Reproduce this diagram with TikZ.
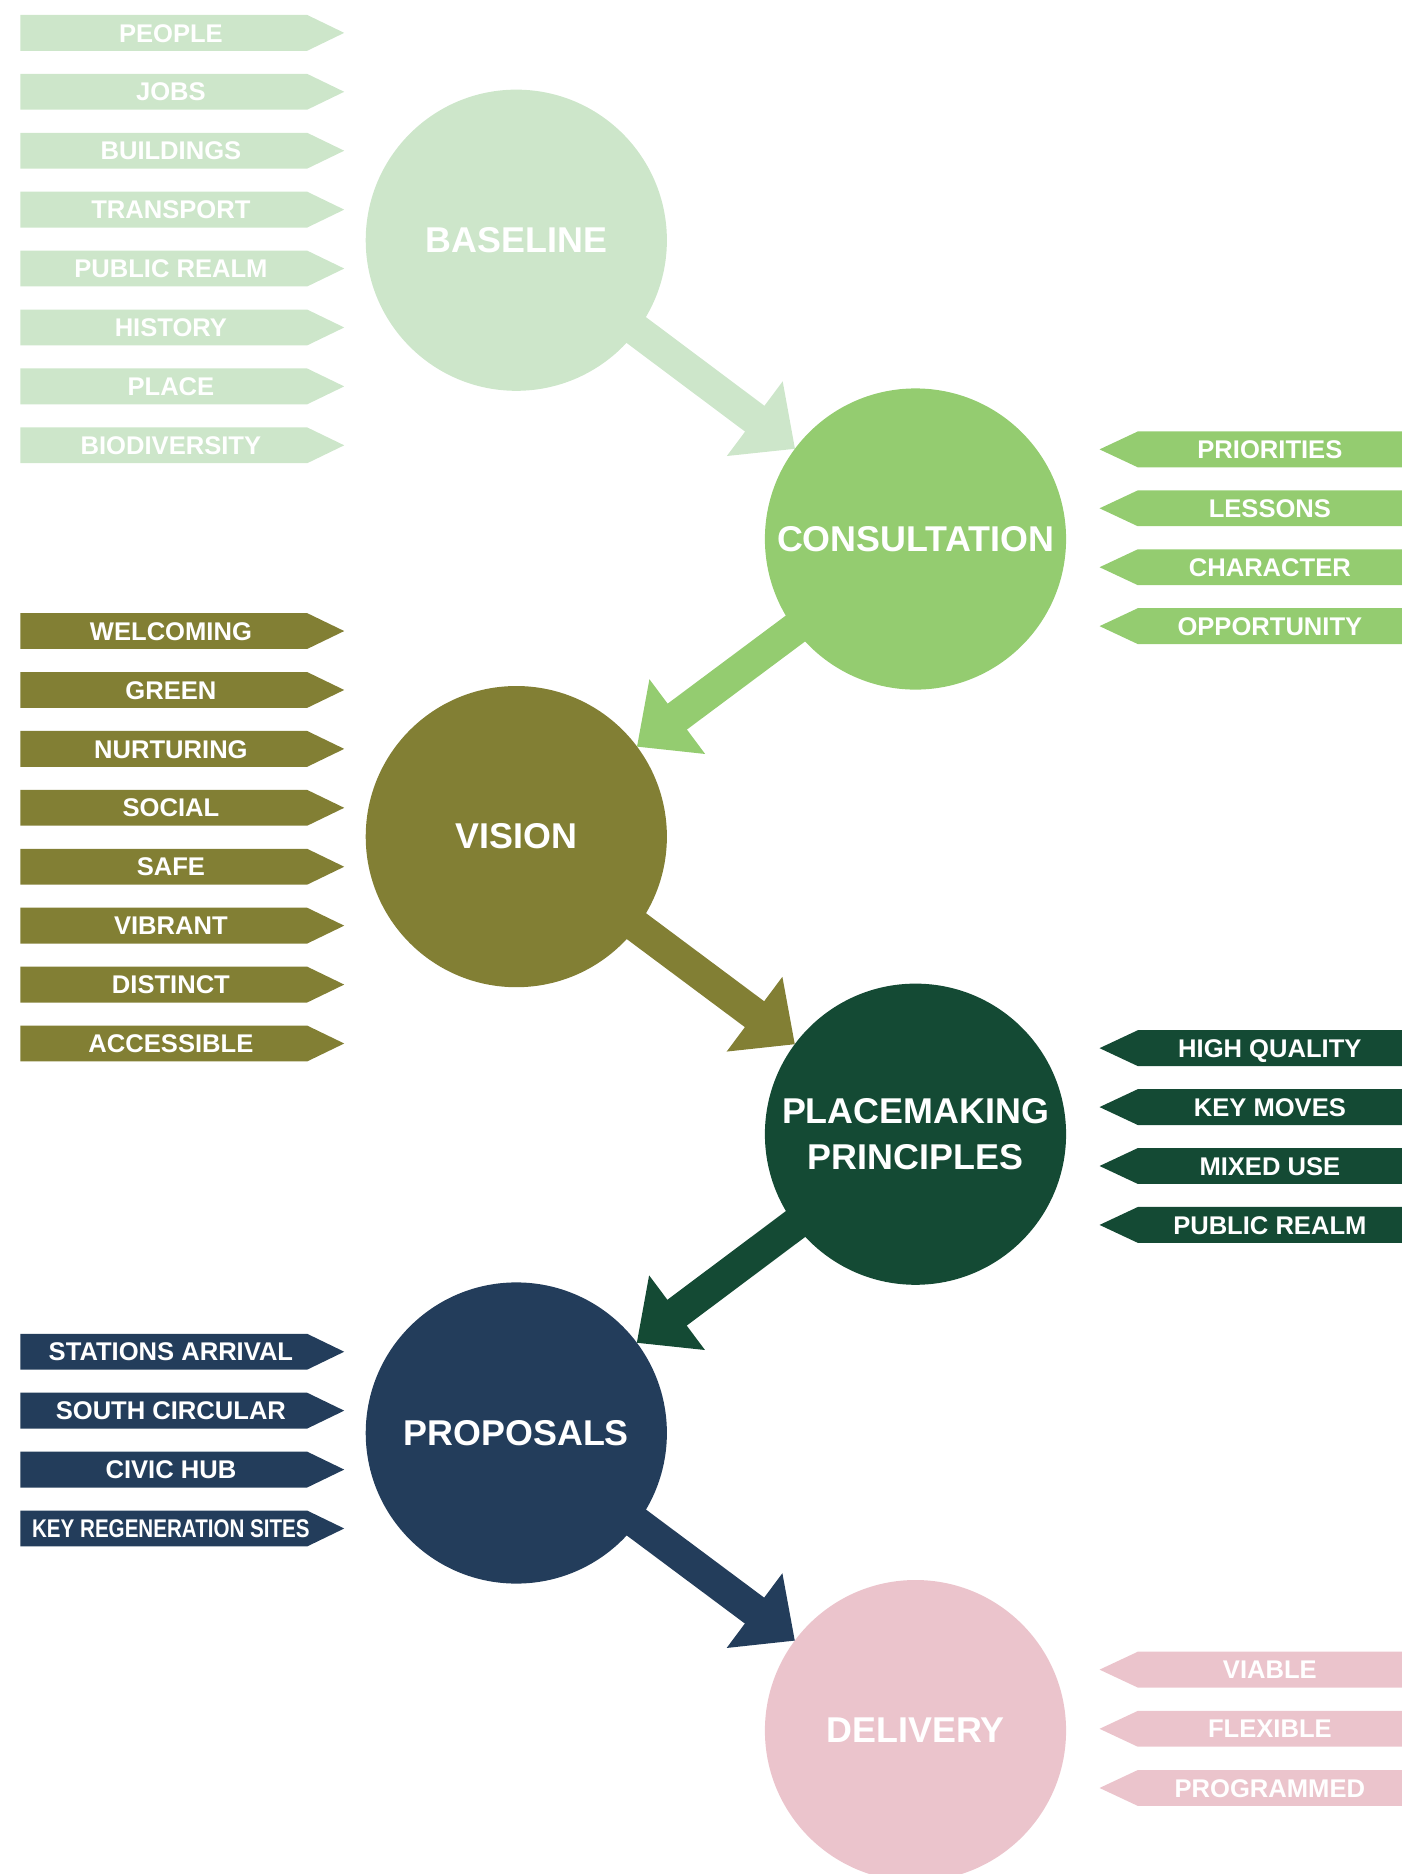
\documentclass[tikz,border=0pt]{standalone}
\usepackage{fontspec}
\setmainfont{Liberation Sans}
\usetikzlibrary{calc}
\definecolor{cBase}{HTML}{CDE6CA}
\definecolor{cCons}{HTML}{94CC70}
\definecolor{cVis}{HTML}{827F34}
\definecolor{cPlace}{HTML}{144A34}
\definecolor{cProp}{HTML}{233D5B}
\definecolor{cDel}{HTML}{EBC4CC}
\newcommand\ltag[4]{%
  \fill[#3] (17,#2-15) -- (257,#2-15) -- (288,#2) -- (257,#2+15) -- (17,#2+15) -- cycle;
  \node[tagtxt] (#1) at (143,#2) {#4};}
\newcommand\rtag[4]{%
  \fill[#3] (1180,#2-15) -- (952,#2-15) -- (920,#2) -- (952,#2+15) -- (1180,#2+15) -- cycle;
  \node[tagtxt] (#1) at (1062.5,#2) {#4};}
\newcommand\flowarrow[3]{%
  \draw[line width=27pt, draw=#3] ($(#1.center)!120pt!(#2.center)$) -- ($(#2.center)!167pt!(#1.center)$);
  \fill[#3] ($(#2.center)!168pt!(#1.center)!39pt!90:(#1.center)$) -- ($(#2.center)!126pt!(#1.center)$) -- ($(#2.center)!168pt!(#1.center)!39pt!-90:(#1.center)$) -- cycle;}
\begin{document}
\begin{tikzpicture}[x=1pt,y=-1pt,
  circ/.style={circle, minimum size=252pt, inner sep=0pt, fill=#1, text=white,
    font=\bfseries\fontsize{30}{38}\selectfont, align=center},
  tagtxt/.style={text=white, font=\bfseries\fontsize{21.4}{24}\selectfont,
    inner sep=0pt, text height=15.3pt, text depth=0pt}]
\useasboundingbox (0,0) rectangle (1173,1568);
% circles
\node[circ=cBase] (base) at (432,201) {BASELINE};
\node[circ=cCons] (cons) at (766,451) {CONSULTATION};
\node[circ=cVis] (vis) at (432,700) {VISION};
\node[circ=cPlace] (place) at (766,949) {PLACEMAKING\\PRINCIPLES};
\node[circ=cProp] (prop) at (432,1199) {PROPOSALS};
\node[circ=cDel] (del) at (766,1448) {DELIVERY};
% arrows
\flowarrow{base}{cons}{cBase}
\flowarrow{cons}{vis}{cCons}
\flowarrow{vis}{place}{cVis}
\flowarrow{place}{prop}{cPlace}
\flowarrow{prop}{del}{cProp}
% baseline tags
\ltag{b1}{27.5}{cBase}{PEOPLE}
\ltag{b2}{76.8}{cBase}{JOBS}
\ltag{b3}{126.1}{cBase}{BUILDINGS}
\ltag{b4}{175.4}{cBase}{TRANSPORT}
\ltag{b5}{224.7}{cBase}{PUBLIC REALM}
\ltag{b6}{274}{cBase}{HISTORY}
\ltag{b7}{323.3}{cBase}{PLACE}
\ltag{b8}{372.6}{cBase}{BIODIVERSITY}
% consultation tags
\rtag{c1}{376}{cCons}{PRIORITIES}
\rtag{c2}{425.3}{cCons}{LESSONS}
\rtag{c3}{474.6}{cCons}{CHARACTER}
\rtag{c4}{523.9}{cCons}{OPPORTUNITY}
% vision tags
\ltag{v1}{528}{cVis}{WELCOMING}
\ltag{v2}{577.3}{cVis}{GREEN}
\ltag{v3}{626.6}{cVis}{NURTURING}
\ltag{v4}{675.9}{cVis}{SOCIAL}
\ltag{v5}{725.2}{cVis}{SAFE}
\ltag{v6}{774.5}{cVis}{VIBRANT}
\ltag{v7}{823.8}{cVis}{DISTINCT}
\ltag{v8}{873.1}{cVis}{ACCESSIBLE}
% placemaking tags
\rtag{p1}{877}{cPlace}{HIGH QUALITY}
\rtag{p2}{926.3}{cPlace}{KEY MOVES}
\rtag{p3}{975.6}{cPlace}{MIXED USE}
\rtag{p4}{1024.9}{cPlace}{PUBLIC REALM}
% proposals tags
\ltag{q1}{1131}{cProp}{STATIONS ARRIVAL}
\ltag{q2}{1180.3}{cProp}{SOUTH CIRCULAR}
\ltag{q3}{1229.6}{cProp}{CIVIC HUB}
\ltag{q4}{1278.9}{cProp}{\scalebox{0.805}[1]{KEY REGENERATION SITES}}
% delivery tags
\rtag{d1}{1397}{cDel}{VIABLE}
\rtag{d2}{1446.5}{cDel}{FLEXIBLE}
\rtag{d3}{1496}{cDel}{PROGRAMMED}
\end{tikzpicture}
\end{document}
